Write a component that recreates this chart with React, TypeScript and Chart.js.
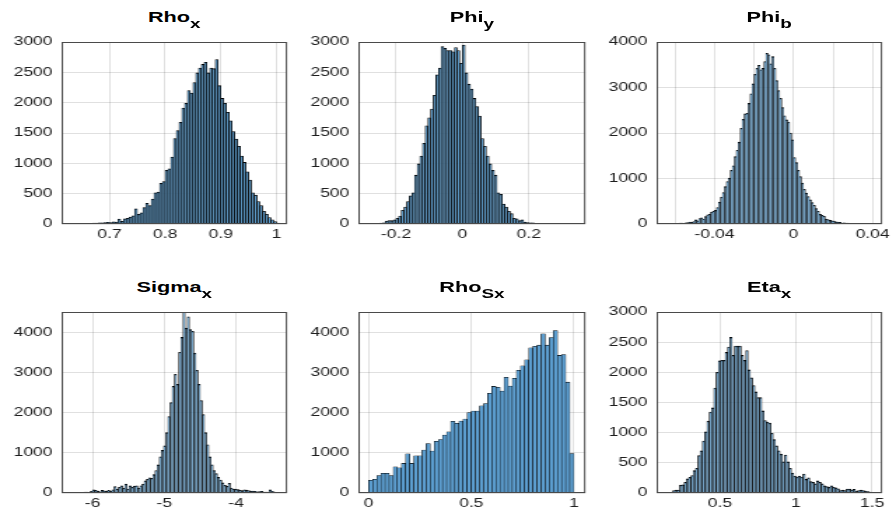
import React, { useEffect, useRef } from "react";
import { Chart, registerables } from "chart.js";

Chart.register(...registerables);

// horizontal stretch of the reference figure
const S = 1.4;
const FONT = "'Liberation Sans', Arial, Helvetica, sans-serif";

// ---------- DATA ----------
// Rho_x
const RHO_X_START = 0.615;
const RHO_X_WIDTH = 0.005;
const RHO_X_COUNTS = [
  2, 0, 5, 0, 6, 4, 8, 3, 10, 8, 12, 15, 14, 18, 20, 22, 28, 25, 35, 30,
  80, 45, 85, 95, 115, 135, 250, 160, 185, 270, 340, 305, 410, 515, 525, 670, 700, 885, 910, 1105,
  1410, 1540, 1675, 1910, 1990, 2200, 2160, 2330, 2490, 2570, 2630, 2665, 2490, 2570, 2560, 2710, 2280, 2070, 1990, 1840,
  1700, 1525, 1400, 1280, 1120, 1015, 860, 725, 515, 475, 370, 305, 210, 160, 105, 70, 40, 15, 3, 0, 0,
];
const RHO_X_TICKS = [0.7, 0.8, 0.9, 1];
const RHO_X_TICK_LABELS = ["0.7", "0.8", "0.9", "1"];

// Phi_y
const PHI_Y_START = -0.312;
const PHI_Y_WIDTH = 0.008;
const PHI_Y_COUNTS = [
  0, 3, 0, 5, 8, 6, 10, 12, 15, 20,
  50, 58, 55, 70, 95, 130, 225, 280, 370, 465,
  515, 805, 990, 1120, 1330, 1620, 1750, 1895, 2120, 2460,
  2570, 2925, 2895, 2860, 2860, 2840, 2910, 2860, 2650, 2950,
  2490, 2305, 2225, 2070, 1935, 1780, 1410, 1280, 1120, 990,
  885, 805, 515, 490, 330, 280, 210, 170, 95, 85,
  55, 70, 30, 25, 20, 18, 12, 10, 8, 10,
  6, 5, 8, 3, 5, 2, 4, 1, 3, 2,
  0, 2, 0, 0, 0,
];
const PHI_Y_TICKS = [-0.2, 0, 0.2];
const PHI_Y_TICK_LABELS = ["-0.2", "0", "0.2"];

// Phi_b
const PHI_B_START = -0.069;
const PHI_B_WIDTH = 0.001;
const PHI_B_COUNTS = [
  0, 0, 5, 0, 8, 5, 10, 8, 12, 15,
  10, 18, 22, 15, 28, 30, 40, 35, 55, 90,
  70, 120, 135, 110, 165, 200, 215, 260, 280, 300,
  360, 480, 590, 690, 820, 930, 1010, 1180, 1280, 1480,
  1620, 1800, 2100, 2300, 2420, 2430, 2650, 2860, 3080, 3290,
  3420, 3490, 3390, 3420, 3570, 3750, 3720, 3520, 3680, 3420,
  3150, 2930, 2760, 2560, 2380, 2290, 2240, 2000, 1850, 1460,
  1350, 1180, 1040, 900, 760, 680, 600, 530, 470, 410,
  340, 280, 210, 190, 170, 110, 95, 80, 70, 65,
  45, 40, 35, 22, 25, 18, 20, 12, 15, 10,
  8, 12, 5, 6, 3, 4, 0, 2, 0, 0,
  0, 0, 0, 0,
];
const PHI_B_TICKS = [-0.06, -0.04, -0.02, 0, 0.02, 0.04];
const PHI_B_TICK_LABELS = ["", "-0.04", "", "0", "", "0.04"];

// Sigma_x
const SIGMA_X_START = -6.42;
const SIGMA_X_WIDTH = 0.03;
const SIGMA_X_COUNTS = [
  0, 0, 5, 0, 10, 5, 12, 8, 15, 10,
  20, 25, 15, 40, 80, 65, 50, 30, 65, 55,
  40, 65, 50, 80, 160, 95, 140, 180, 120, 220,
  100, 180, 140, 175, 180, 125, 180, 220, 300, 340,
  380, 365, 460, 560, 700, 900, 1060, 1170, 1500, 1900,
  2250, 2650, 2950, 2700, 3500, 3870, 4520, 4100, 4380, 4060,
  4020, 3480, 3050, 2700, 2300, 1950, 1500, 1200, 900, 700,
  560, 480, 390, 320, 250, 190, 170, 240, 125, 100,
  95, 85, 70, 60, 80, 70, 60, 50, 50, 40,
  30, 35, 40, 25, 25, 20, 80, 40, 20, 10,
  8, 5, 0, 0,
];
const SIGMA_X_TICKS = [-6, -5, -4];
const SIGMA_X_TICK_LABELS = ["-6", "-5", "-4"];

// Rho_Sx
const RHO_SX_START = 0;
const RHO_SX_WIDTH = 0.02;
const RHO_SX_COUNTS = [
  315, 340, 435, 490, 490, 435, 650, 625, 735, 975,
  735, 925, 925, 1070, 1230, 1045, 1285, 1330, 1440, 1520,
  1780, 1735, 1790, 1840, 2000, 2035, 2035, 2170, 2225, 2480,
  2650, 2630, 2535, 2875, 2660, 2850, 3050, 3160, 3310, 3610,
  3645, 3675, 3960, 3675, 3865, 4040, 3420, 3440, 2755, 980,
];
const RHO_SX_TICKS = [0, 0.5, 1];
const RHO_SX_TICK_LABELS = ["0", "0.5", "1"];

// Eta_x
const ETA_X_START = 0.085;
const ETA_X_WIDTH = 0.015;
const ETA_X_COUNTS = [
  0, 0, 0, 0, 5, 10, 10, 40, 50, 50,
  130, 135, 175, 235, 260, 290, 370, 410, 620, 700,
  860, 1015, 1190, 1340, 1410, 1740, 2000, 2190, 2200, 2200,
  2330, 2420, 2580, 2280, 2435, 2435, 2435, 2280, 2200, 2360,
  2040, 1910, 1780, 1675, 1580, 1580, 1360, 1200, 1175, 1160,
  990, 885, 780, 700, 645, 515, 630, 515, 410, 330,
  280, 265, 280, 265, 315, 225, 250, 190, 175, 150,
  200, 175, 150, 120, 105, 95, 120, 95, 85, 70,
  40, 50, 40, 65, 65, 50, 60, 30, 40, 50,
  40, 30, 25, 15, 10, 5, 3, 0, 0,
];
const ETA_X_TICKS = [0.5, 1, 1.5];
const ETA_X_TICK_LABELS = ["0.5", "1", "1.5"];

// y tick values
const Y_TICKS_3000 = [0, 500, 1000, 1500, 2000, 2500, 3000];
const Y_TICKS_4000 = [0, 1000, 2000, 3000, 4000];

// ---------- LAYOUT ----------
const COLS = [
  { l: 61.5, r: 287 },
  { l: 358.5, r: 585.5 },
  { l: 656.5, r: 882 },
];
const ROWS = [
  { t: 34, b: 224 },
  { t: 304, b: 493 },
];

type PanelDef = {
  title: string;
  sub: string;
  start: number;
  width: number;
  counts: number[];
  xMin: number;
  xMax: number;
  xTicks: number[];
  xLabels: string[];
  yMax: number;
  yTicks: number[];
  col: number;
  row: number;
  bw: number;
};

const PANELS: PanelDef[] = [
  { title: "Rho", sub: "x", start: RHO_X_START, width: RHO_X_WIDTH, counts: RHO_X_COUNTS, xMin: 0.614, xMax: 1.019, xTicks: RHO_X_TICKS, xLabels: RHO_X_TICK_LABELS, yMax: 3000, yTicks: Y_TICKS_3000, col: 0, row: 0, bw: 0.8 },
  { title: "Phi", sub: "y", start: PHI_Y_START, width: PHI_Y_WIDTH, counts: PHI_Y_COUNTS, xMin: -0.313, xMax: 0.37, xTicks: PHI_Y_TICKS, xLabels: PHI_Y_TICK_LABELS, yMax: 3000, yTicks: Y_TICKS_3000, col: 1, row: 0, bw: 0.8 },
  { title: "Phi", sub: "b", start: PHI_B_START, width: PHI_B_WIDTH, counts: PHI_B_COUNTS, xMin: -0.0693, xMax: 0.0448, xTicks: PHI_B_TICKS, xLabels: PHI_B_TICK_LABELS, yMax: 4000, yTicks: Y_TICKS_4000, col: 2, row: 0, bw: 0.75 },
  { title: "Sigma", sub: "x", start: SIGMA_X_START, width: SIGMA_X_WIDTH, counts: SIGMA_X_COUNTS, xMin: -6.43, xMax: -3.29, xTicks: SIGMA_X_TICKS, xLabels: SIGMA_X_TICK_LABELS, yMax: 4500, yTicks: Y_TICKS_4000, col: 0, row: 1, bw: 0.8 },
  { title: "Rho", sub: "Sx", start: RHO_SX_START, width: RHO_SX_WIDTH, counts: RHO_SX_COUNTS, xMin: -0.05, xMax: 1.056, xTicks: RHO_SX_TICKS, xLabels: RHO_SX_TICK_LABELS, yMax: 4500, yTicks: Y_TICKS_4000, col: 1, row: 1, bw: 0.55 },
  { title: "Eta", sub: "x", start: ETA_X_START, width: ETA_X_WIDTH, counts: ETA_X_COUNTS, xMin: 0.084, xMax: 1.566, xTicks: ETA_X_TICKS, xLabels: ETA_X_TICK_LABELS, yMax: 3000, yTicks: Y_TICKS_3000, col: 2, row: 1, bw: 0.8 },
];

const Y_W = 40;
const PAD_L = 2;
const PAD_T = 6;
const X_H = 22;
const BAR_FILL = "rgb(92,158,208)";
const GRID = "rgba(0,0,0,0.12)";
const TICK_COLOR = "#1e1e1e";

const boxPlugin = {
  id: "matlabBox",
  afterDraw(chart: any) {
    const { ctx, chartArea: a } = chart;
    ctx.save();
    ctx.strokeStyle = "#4a4a4a";
    ctx.lineWidth = 1;
    ctx.strokeRect(a.left + 0.5, a.top + 0.5, a.right - a.left - 1, a.bottom - a.top - 1);
    ctx.restore();
  },
};

function Panel({ p }: { p: PanelDef }) {
  const ref = useRef<HTMLCanvasElement | null>(null);
  const col = COLS[p.col];
  const row = ROWS[p.row];
  const lu = col.l / S;
  const ru = col.r / S;
  const plotW = ru - lu;
  const plotH = row.b - row.t;
  const cw = Math.ceil(plotW + Y_W + PAD_L + 18);
  const padR = cw - Y_W - PAD_L - plotW;
  const ch = plotH + PAD_T + X_H;
  const left = lu - PAD_L - Y_W;
  const top = row.t - PAD_T;

  useEffect(() => {
    const canvas = ref.current;
    if (!canvas) return;
    const chart = new Chart(canvas, {
      type: "bar",
      data: {
        datasets: [
          {
            data: p.counts.map((c, i) => ({ x: p.start + p.width * (i + 0.5), y: c })),
            backgroundColor: BAR_FILL,
            borderColor: "#000",
            borderWidth: p.bw,
            barPercentage: 1,
            categoryPercentage: 1,
          } as any,
        ],
      },
      options: {
        responsive: false,
        animation: false,
        devicePixelRatio: 1,
        layout: { padding: { left: PAD_L, right: padR, top: PAD_T, bottom: 0 } },
        plugins: {
          legend: { display: false },
          tooltip: { enabled: false },
          title: { display: false },
        },
        scales: {
          x: {
            type: "linear",
            min: p.xMin,
            max: p.xMax,
            offset: false,
            grid: { color: GRID, offset: false, drawTicks: false, lineWidth: 1 },
            border: { display: false },
            ticks: {
              font: { family: FONT, size: 12.5 },
              color: TICK_COLOR,
              padding: 3,
              maxRotation: 0,
              autoSkip: false,
              callback: (value: any) => {
                const i = p.xTicks.indexOf(Number(value));
                return i >= 0 ? p.xLabels[i] : "";
              },
            },
            afterBuildTicks: (axis: any) => {
              axis.ticks = p.xTicks.map((v) => ({ value: v }));
            },
            afterFit: (scale: any) => {
              scale.height = X_H;
            },
          },
          y: {
            type: "linear",
            min: 0,
            max: p.yMax,
            grid: { color: GRID, drawTicks: false, lineWidth: 1 },
            border: { display: false },
            ticks: {
              font: { family: FONT, size: 12.5 },
              color: TICK_COLOR,
              padding: 6.5,
              autoSkip: false,
              callback: (value: any) => String(value),
            },
            afterBuildTicks: (axis: any) => {
              axis.ticks = p.yTicks.map((v) => ({ value: v }));
            },
            afterFit: (scale: any) => {
              scale.width = Y_W;
            },
          },
        } as any,
      },
      plugins: [boxPlugin],
    });
    return () => chart.destroy();
  }, []);

  const baseline = row.t - 12;
  const fs = 15.5;
  return (
    <>
      <canvas
        ref={ref}
        width={cw}
        height={ch}
        style={{ position: "absolute", left, top, width: cw, height: ch }}
      />
      <div
        style={{
          position: "absolute",
          left: lu,
          width: plotW,
          top: baseline - 0.8485 * fs,
          fontFamily: FONT,
          fontWeight: "bold",
          fontSize: fs,
          lineHeight: `${fs}px`,
          textAlign: "center",
          color: "#000",
          whiteSpace: "nowrap",
        }}
      >
        {p.title}
        <span style={{ position: "relative", top: 6, fontSize: 13.5 }}>{p.sub}</span>
      </div>
    </>
  );
}

export default function App() {
  return (
    <div
      style={{
        position: "fixed",
        left: 0,
        top: 0,
        width: 891 / S,
        height: 518,
        transform: `scaleX(${S})`,
        transformOrigin: "0 0",
        background: "#fff",
        overflow: "hidden",
      }}
    >
      {PANELS.map((p, i) => (
        <Panel key={i} p={p} />
      ))}
    </div>
  );
}
